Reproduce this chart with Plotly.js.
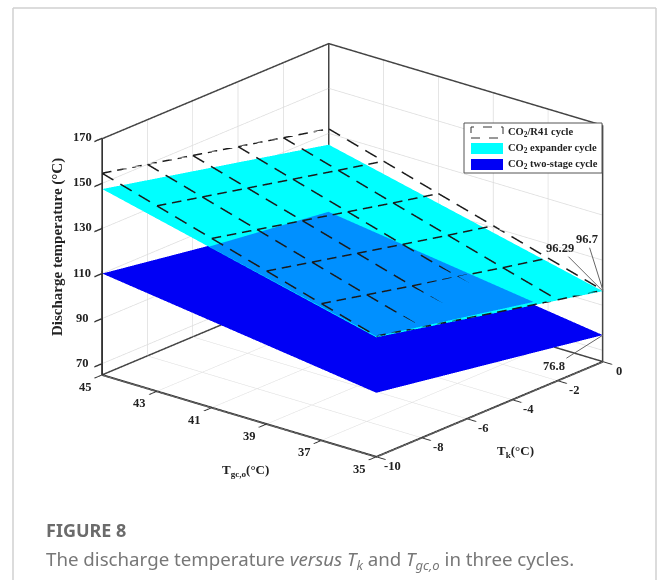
<!DOCTYPE html>
<html><head><meta charset="utf-8">
<script src="https://cdn.plot.ly/plotly-3.0.1.min.js"></script>
<style>html,body{margin:0;padding:0;background:#fff}#c{width:658px;height:580px}</style>
</head><body><div id="c"></div>
<script>
const tgc=[45,43,41,39,37,35];
const tk=[-10,-8,-6,-4,-2,0];
const zTicks=[70,90,110,130,150,170];
const tgcEnds=[45,35];
const tkEnds=[-10,0];
// rows: tgc, columns: tk
const r41=[
[154.5,150.0,145.5,141.0,136.5,132.0],
[147.3,142.8,138.3,133.8,129.3,124.9],
[140.1,135.6,131.1,126.6,122.1,117.8],
[132.9,128.4,123.9,119.4,115.0,110.8],
[125.7,121.2,116.7,112.3,107.9,103.7],
[118.6,114.1,109.6,105.2,100.9,96.7]];
const expander=[[147.5,125.0],[118.0,96.29]];
const twoStage=[[110.0,94.0],[93.4,76.8]];
// part of the expander sheet where the two-stage sheet shows through
const ovTgc=[35,41.1,41.42,35];
const ovTk=[-10,-10,-4.34,-3.06];
const ovZ=[118.4,136.1,126.5,104.4];
const zRange=[65,170];

const flat=(name,c)=>({type:'surface',name,colorscale:[[0,c],[1,c]],showscale:false,cmin:0,cmax:1,
  lighting:{ambient:1,diffuse:0,specular:0,fresnel:0,roughness:1},hoverinfo:'name',
  contours:{x:{highlight:false},y:{highlight:false},z:{highlight:false}}});
const one=m=>m.map(r=>r.map(()=>0.5));
const traces=[];
traces.push(Object.assign(flat('CO2 two-stage cycle','#0000f5'),{x:tkEnds,y:tgcEnds,z:twoStage,surfacecolor:one(twoStage)}));
traces.push(Object.assign(flat('CO2 expander cycle','#00ffff'),{x:tkEnds,y:tgcEnds,z:expander,surfacecolor:one(expander)}));
traces.push({type:'mesh3d',x:ovTk,y:ovTgc,z:ovZ,i:[0,0],j:[1,2],k:[2,3],color:'#0090ff',flatshading:true,
  lighting:{ambient:1,diffuse:0,specular:0,fresnel:0,roughness:1},hoverinfo:'skip'});

// dashes are broken up along each grid line between neighbouring readings
const dashPerCell=3, dashFill=0.62;
function dashed(xs,ys,zs){
  const X=[],Y=[],Z=[];
  for(let s=0;s<xs.length-1;s++){
    for(let d=0;d<dashPerCell;d++){
      const a=(d+0.0)/dashPerCell,b=(d+dashFill)/dashPerCell;
      [a,b].forEach(t=>{X.push(xs[s]+(xs[s+1]-xs[s])*t);Y.push(ys[s]+(ys[s+1]-ys[s])*t);Z.push(zs[s]+(zs[s+1]-zs[s])*t);});
      X.push(null);Y.push(null);Z.push(null);
    }
  }
  return {type:'scatter3d',mode:'lines',x:X,y:Y,z:Z,connectgaps:false,line:{color:'#1a1a1a',width:3},hoverinfo:'skip',showlegend:false};
}
tgc.forEach((g,i)=>traces.push(dashed(tk,tk.map(()=>g),r41[i])));
tk.forEach((k,j)=>traces.push(dashed(tgc.map(()=>k),tgc,r41.map(r=>r[j]))));

// back edges of the box, kept a hair inside the clip bounds
const eps=0.01, zeps=0.1;
const x0=tk[0], x1=tk[5]-eps, y0=tgc[5], y1=tgc[0]-eps, z0=zRange[0]+zeps, z1=zRange[1]-zeps;
const box=(xs,ys,zs)=>({type:'scatter3d',mode:'lines',x:xs,y:ys,z:zs,line:{color:'#444',width:3},hoverinfo:'skip',showlegend:false});
traces.push(box([x0,x1,x1],[y1,y1,y0],[z0,z0,z0]));
traces.push(box([x0,x1,x1],[y1,y1,y0],[z1,z1,z1]));
traces.push(box([x1,x1],[y1,y1],[z0,z1]));
traces.push(box([x1,x1],[y0,y0],[z0,z1]));

const ax=(vals,range)=>({range,tickmode:'array',tickvals:vals,showticklabels:false,title:{text:''},
  showgrid:true,gridcolor:'#dcdcdc',gridwidth:1.5,zeroline:false,showline:true,linecolor:'#333',linewidth:4,
  ticks:'outside',tickcolor:'#333',ticklen:12,tickwidth:3,showbackground:false,showspikes:false,mirror:false});
const tickFont={family:'Liberation Serif',size:12.5,color:'#222',weight:'bold'};
const tickLabel=(x,y,z,v,xshift,yshift)=>({x,y,z,text:'<b>'+v+'</b>',showarrow:false,xshift,yshift,font:tickFont});
const ann=(x,y,text,size,extra)=>Object.assign({xref:'paper',yref:'paper',x:x/658,y:1-y/580,text,showarrow:false,
  font:{family:'Liberation Serif',size:size||12,color:'#222'},xanchor:'left',yanchor:'middle'},extra||{});
const callout=(z,text,ax,ay)=>({x:0,y:35,z,text:'<b>'+text+'</b>',ax,ay,showarrow:true,arrowhead:0,arrowwidth:1,arrowcolor:'#666',font:tickFont});
const layout={width:658,height:580,margin:{l:0,r:0,t:0,b:0},paper_bgcolor:'#fff',showlegend:false,
 scene:{domain:{x:[47/658,1],y:[1-500/580,1]},
  xaxis:ax(tk,[-10,0]),yaxis:ax(tgc,[35,45]),zaxis:ax(zTicks,zRange),
  aspectmode:'manual',aspectratio:{x:1.406,y:1.435,z:1.012},
  camera:{projection:{type:'orthographic'},up:{x:0,y:0,z:1},center:{x:0,y:0,z:0},eye:{x:-0.715,y:-0.603,z:0.354}},
  annotations:[
   callout(96.7,'96.7',-16,-51),callout(96.29,'96.29',-43,-43),callout(76.8,'76.8',-49,31),
   ...tgc.map(v=>tickLabel(tk[0],v,zRange[0],v,-17,-12)),
   ...tk.map(v=>tickLabel(v,tgc[5],zRange[0],v,16,-9)),
   ...zTicks.map(v=>tickLabel(tk[0],tgc[0],v,v,-20,1))
  ]},
 shapes:[
  {type:'line',xref:'paper',yref:'paper',x0:13/658,x1:13/658,y0:0,y1:1-8/580,line:{color:'#d0d0d0',width:1.5}},
  {type:'line',xref:'paper',yref:'paper',x0:656/658,x1:656/658,y0:0,y1:1-8/580,line:{color:'#d0d0d0',width:1.5}},
  {type:'line',xref:'paper',yref:'paper',x0:13/658,x1:656/658,y0:1-8/580,y1:1-8/580,line:{color:'#d0d0d0',width:1.5}},
  {type:'rect',xref:'paper',yref:'paper',x0:464/658,x1:602/658,y0:1-173/580,y1:1-123/580,line:{color:'#555',width:1},fillcolor:'#fff'},
  {type:'rect',xref:'paper',yref:'paper',x0:471/658,x1:503/658,y0:1-138/580,y1:1-127/580,line:{color:'#333',width:1,dash:'dash'},fillcolor:'rgba(0,0,0,0)'},
  {type:'rect',xref:'paper',yref:'paper',x0:471/658,x1:503/658,y0:1-154/580,y1:1-143/580,line:{width:0},fillcolor:'#00ffff'},
  {type:'rect',xref:'paper',yref:'paper',x0:471/658,x1:503/658,y0:1-170/580,y1:1-159/580,line:{width:0},fillcolor:'#0000f5'}],
 annotations:[
  ann(506,132,'<b>CO<sub>2</sub>/R41 cycle</b>',10.5),
  ann(506,148,'<b>CO<sub>2</sub> expander cycle</b>',10.5),
  ann(506,164,'<b>CO<sub>2</sub> two-stage cycle</b>',10.5),
  ann(57,247,'<b>Discharge temperature (°C)</b>',15,{textangle:-90,xanchor:'center',yanchor:'middle'}),
  ann(220,470,'<b>T<sub>gc,o</sub>(°C)</b>',13),
  ann(495,451,'<b>T<sub>k</sub>(°C)</b>',13),
  ann(44,530,'<b>FIGURE 8</b>',18,{font:{family:'Noto Sans',size:18,color:'#6b6b6b'}}),
  ann(44,560,'The discharge temperature <i>versus T<sub>k</sub></i> and <i>T<sub>gc,o</sub></i> in three cycles.',18.7,{font:{family:'Noto Sans',size:18.7,color:'#777'}})
 ]};
Plotly.newPlot('c',traces,layout,{displayModeBar:false});
</script></body></html>
